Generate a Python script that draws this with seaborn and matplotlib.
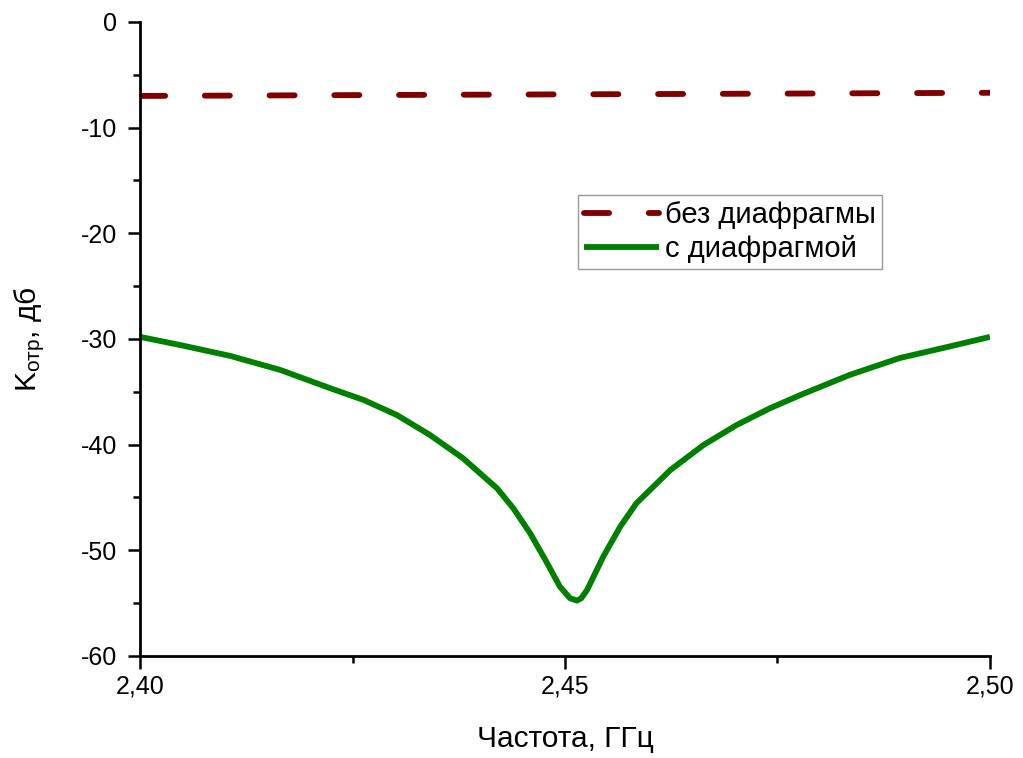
import numpy as np
import pandas as pd
import matplotlib
matplotlib.use('Agg')
import matplotlib.pyplot as plt
from matplotlib.ticker import MultipleLocator
import seaborn as sns

# частота, ГГц и коэффициент отражения, дБ
freq_with = [2.4000, 2.4047, 2.4106, 2.4165, 2.4224, 2.4263, 2.4302, 2.4341,
             2.4380, 2.4420, 2.4439, 2.4459, 2.4478, 2.4494, 2.4506, 2.4514,
             2.4519, 2.4526, 2.4545, 2.4565, 2.4584, 2.4624, 2.4663, 2.4702,
             2.4741, 2.4780, 2.4835, 2.4894, 2.4953, 2.5000]
k_with = [-29.8, -30.57, -31.6, -32.93, -34.67, -35.77, -37.19, -39.08,
          -41.29, -44.13, -46.0, -48.39, -51.07, -53.44, -54.54, -54.76,
          -54.55, -53.75, -50.6, -47.76, -45.55, -42.4, -40.03, -38.14,
          -36.56, -35.2, -33.4, -31.8, -30.7, -29.8]

freq_without = [2.40, 2.425, 2.45, 2.475, 2.50]
k_without = [-7.0, -6.92, -6.85, -6.78, -6.7]

xticks = [2.40, 2.45, 2.50]
xtick_labels = ['2,40', '2,45', '2,50']
yticks = [0, -10, -20, -30, -40, -50, -60]
ytick_labels = ['0', '-10', '-20', '-30', '-40', '-50', '-60']

sns.set_theme(style='ticks')
plt.rcParams['font.family'] = ['Liberation Sans', 'DejaVu Sans']
plt.rcParams['mathtext.fontset'] = 'custom'
plt.rcParams['mathtext.rm'] = 'Liberation Sans'

fig = plt.figure(figsize=(10.23, 7.58), dpi=100)
ax = fig.add_axes([0.1369, 0.1346, 0.8308, 0.8364])

df_without = pd.DataFrame({'f': freq_without, 'k': k_without})
df_with = pd.DataFrame({'f': freq_with, 'k': k_with})

sns.lineplot(data=df_without, x='f', y='k', ax=ax, color='#800000', linewidth=4.2,
             linestyle=(0, (4.3, 6.8)), dash_capstyle='round', label='без диафрагмы')
sns.lineplot(data=df_with, x='f', y='k', ax=ax, color='#008000', linewidth=4.2,
             solid_joinstyle='round', solid_capstyle='butt', label='с диафрагмой')

ax.set_xlim(2.40, 2.50)
ax.set_ylim(-60, 0)
ax.set_xticks(xticks)
ax.set_xticklabels(xtick_labels)
ax.set_yticks(yticks)
ax.set_yticklabels(ytick_labels)
ax.xaxis.set_minor_locator(MultipleLocator(0.025))
ax.yaxis.set_minor_locator(MultipleLocator(5))

for side in ['top', 'right']:
    ax.spines[side].set_visible(False)
for side in ['left', 'bottom']:
    ax.spines[side].set_linewidth(2.0)
    ax.spines[side].set_color('black')

ax.tick_params(axis='both', which='major', direction='out', width=1.8, color='black',
               labelsize=18, labelcolor='black')
ax.tick_params(axis='y', which='major', length=8.6, pad=8)
ax.tick_params(axis='x', which='major', length=9.5, pad=4)
ax.tick_params(axis='both', which='minor', direction='out', length=5, width=1.8, color='black')

ax.set_xlabel('Частота, ГГц', fontsize=21.5, color='black', labelpad=19)
ax.set_ylabel(r'$\mathregular{K_{отр}}$, дб', fontsize=21.5, color='black', labelpad=24)

leg = ax.legend(loc='upper left', bbox_to_anchor=(0.515, 0.727), borderaxespad=0,
                fontsize=21, frameon=True, fancybox=False, handlelength=2.6,
                handletextpad=0.2, borderpad=0.2, labelspacing=0.2)
leg.get_frame().set_edgecolor('#808080')
leg.get_frame().set_linewidth(1.0)
for t in leg.get_texts():
    t.set_color('black')

fig.savefig('out.png', dpi=100, facecolor='white')
